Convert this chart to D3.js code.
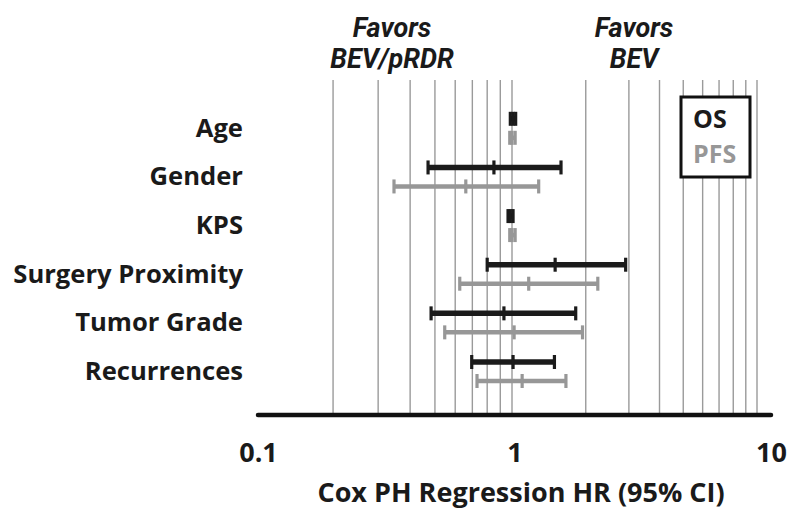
<!DOCTYPE html>
<html>
<head>
<meta charset="utf-8">
<script src="https://cdn.jsdelivr.net/npm/d3@7"></script>
<style>
  body { margin: 0; background: #fff; }
  text { font-family: "Open Sans", "Noto Sans", sans-serif; font-weight: bold; }
</style>
</head>
<body>
<svg id="chart"></svg>
<script>
// rows, top to bottom
const categories = ['Age', 'Gender', 'KPS', 'Surgery Proximity', 'Tumor Grade', 'Recurrences'];

// hazard ratios with 95% CI
const osHR  = [1.01, 0.85, 0.985, 1.50, 0.93, 1.01];
const osLo  = [0.985, 0.47, 0.965, 0.80, 0.483, 0.696];
const osHi  = [1.035, 1.585, 1.01, 2.91, 1.82, 1.49];

const pfsHR = [1.0, 0.66, 1.0, 1.17, 1.02, 1.10];
const pfsLo = [0.98, 0.346, 0.98, 0.625, 0.546, 0.73];
const pfsHi = [1.03, 1.285, 1.03, 2.24, 1.94, 1.66];

const gridValues = [0.2, 0.3, 0.4, 0.5, 0.6, 0.7, 0.8, 0.9, 1, 2, 3, 4, 5, 6, 7, 8, 9, 10];
const tickLabels = [0.1, 1, 10];
const favorLabels = [['Favors', 'BEV/pRDR'], ['Favors', 'BEV']];
const seriesNames = ['OS', 'PFS'];

const width = 787, height = 510;
const black = '#1b1b1b', grey = '#979797';

const svg = d3.select('#chart')
  .attr('width', width)
  .attr('height', height);

// the two decades of the gridlines are not quite the same width in the original
const x = d3.scaleLog()
  .domain([0.1, 1, 10])
  .range([256, 512, 757]);

// axis line and its labels
const xAxisScale = d3.scaleLog()
  .domain([0.1, 10])
  .range([258, 771]);

const y = d3.scalePoint()
  .domain(categories)
  .range([118.8, 362]);
const pfsOffset = 19;
const gridTop = 80, axisY = 415;

// gridlines
svg.append('g')
  .selectAll('line')
  .data(gridValues)
  .enter().append('line')
  .attr('x1', d => x(d))
  .attr('x2', d => x(d))
  .attr('y1', gridTop)
  .attr('y2', axisY)
  .attr('stroke', '#9a9a9a')
  .attr('stroke-width', 1.4);

// x axis
const xAxis = d3.axisBottom(xAxisScale)
  .tickValues(tickLabels)
  .tickSize(0)
  .tickPadding(28)
  .tickFormat(d3.format('~g'));

const gx = svg.append('g')
  .attr('transform', `translate(0, ${axisY})`)
  .call(xAxis);
gx.select('.domain').remove();
gx.selectAll('text')
  .attr('font-size', 27)
  .attr('fill', '#1a1a1a')
  .style('font-family', '"Open Sans", sans-serif')
  .style('font-weight', 'bold');

svg.append('line')
  .attr('x1', xAxisScale(0.1))
  .attr('x2', xAxisScale(10))
  .attr('y1', axisY)
  .attr('y2', axisY)
  .attr('stroke', '#111')
  .attr('stroke-width', 4.5)
  .attr('stroke-linecap', 'round');

svg.append('text')
  .attr('x', 521)
  .attr('y', 502)
  .attr('text-anchor', 'middle')
  .attr('font-size', 27)
  .attr('fill', '#1a1a1a')
  .text('Cox PH Regression HR (95% CI)');

// row labels
svg.append('g')
  .selectAll('text')
  .data(categories)
  .enter().append('text')
  .attr('x', 243)
  .attr('y', d => y(d) + pfsOffset / 2 + 8.5)
  .attr('text-anchor', 'end')
  .attr('font-size', 25.6)
  .attr('fill', '#1a1a1a')
  .text(d => d);

// favors labels
const favorX = [392, 634];
favorLabels.forEach((lines, i) => {
  const t = svg.append('text')
    .attr('text-anchor', 'middle')
    .attr('font-size', 27)
    .attr('font-style', 'italic')
    .attr('fill', '#1a1a1a')
    .style('font-family', 'Roboto, sans-serif');
  lines.forEach((s, j) => {
    t.append('tspan')
      .attr('x', favorX[i])
      .attr('y', 37 + j * 31)
      .text(s);
  });
});

// CI bars
function drawSeries(hr, lo, hi, color, dy, lw) {
  const g = svg.append('g').attr('fill', color).attr('stroke', color);
  categories.forEach((c, i) => {
    const cy = y(c) + dy;
    g.append('line')
      .attr('x1', x(lo[i]))
      .attr('x2', x(hi[i]))
      .attr('y1', cy)
      .attr('y2', cy)
      .attr('stroke-width', lw);
    [lo[i], hr[i], hi[i]].forEach(v => {
      g.append('rect')
        .attr('x', x(v) - 1.6)
        .attr('y', cy - 7)
        .attr('width', 3.2)
        .attr('height', 14)
        .attr('stroke', 'none');
    });
  });
}
drawSeries(osHR, osLo, osHi, black, 0, 5.5);
drawSeries(pfsHR, pfsLo, pfsHi, grey, pfsOffset, 4.5);

// legend
const legend = svg.append('g');
legend.append('rect')
  .attr('x', 681)
  .attr('y', 97)
  .attr('width', 69)
  .attr('height', 80)
  .attr('fill', '#fff')
  .attr('stroke', '#111')
  .attr('stroke-width', 3);
legend.selectAll('text.series')
  .data(seriesNames)
  .enter().append('text')
  .attr('class', 'series')
  .attr('x', 693)
  .attr('y', (d, i) => 128 + i * 35)
  .attr('font-size', 25)
  .attr('fill', (d, i) => i === 0 ? black : grey)
  .text(d => d);
</script>
</body>
</html>
